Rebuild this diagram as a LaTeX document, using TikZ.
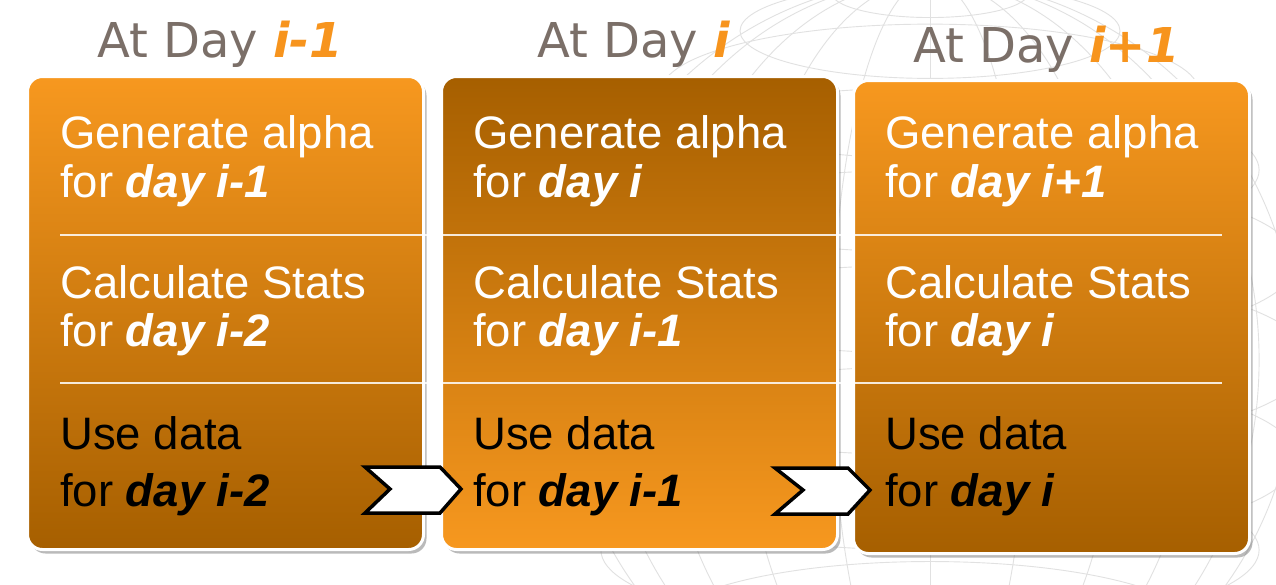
\documentclass[tikz,border=0pt]{standalone}
\usepackage{fontspec}
\setmainfont{Liberation Sans}
\newfontfamily\titlefont{DejaVu Sans}
\usetikzlibrary{shadows}
\definecolor{orangetop}{RGB}{247,152,31}
\definecolor{brownbot}{RGB}{166,95,0}
\definecolor{titlegray}{RGB}{123,111,104}
\definecolor{dayorange}{RGB}{247,148,29}
\definecolor{gridgray}{RGB}{225,225,225}
\begin{document}
\begin{tikzpicture}[x=1pt,y=-1pt,
  daybox/.style={draw=white, line width=3pt, rounded corners=15pt,
    minimum width=396pt, minimum height=473pt, anchor=north west, inner sep=0pt,
    drop shadow={shadow xshift=3pt, shadow yshift=-4pt, opacity=0.45, fill=black!60}},
  lightdown/.style={daybox, top color=orangetop, bottom color=brownbot},
  darkdown/.style={daybox, top color=brownbot, bottom color=orangetop},
  daytitle/.style={font=\titlefont\fontsize{48}{52}\selectfont, text=titlegray, anchor=base west, inner sep=0pt},
  wline/.style={font=\fontsize{45.5}{50}\selectfont, text=white, anchor=base west, inner sep=0pt},
  bline/.style={wline, text=black},
  divider/.style={white, line width=2pt, opacity=0.85},
  chevron/.style={draw=black, fill=white, line width=3.5pt, miter limit=10},
  gridline/.style={gridgray, line width=0.9pt}
]
\useasboundingbox (0,0) rectangle (1276,584);
\fill[white] (0,0) rectangle (1276,584);

% faint wireframe globe in the background
\begin{scope}
  \clip (0,0) rectangle (1276,584);
  \foreach \a in {15,30,...,75}
    \draw[gridline] (930,360) ellipse ({380*sin(\a)} and 380);
  \draw[gridline] (930,-20) -- (930,740);
  \foreach \l in {-75,-60,...,75}
    \draw[gridline] (930,{360-380*sin(\l)}) ellipse ({380*cos(\l)} and {95*cos(\l)});
\end{scope}

% the three day panels
\node[lightdown] (box1) at (26,75) {};
\node[darkdown]  (box2) at (440,75) {};
\node[lightdown] (box3) at (852,79) {};

% section dividers running across all panels
\draw[divider] (60,235) -- (1222,235);
\draw[divider] (60,383) -- (1222,383);

% column headings
\node[daytitle] (t1) at (97,57) {At Day \textcolor{dayorange}{\textbf{\textit{i-1}}}};
\node[daytitle] (t2) at (537,57) {At Day \textcolor{dayorange}{\textbf{\textit{i}}}};
\node[daytitle] (t3) at (913,62) {At Day \textcolor{dayorange}{\textbf{\textit{i+1}}}};

% panel 1
\node[wline] (p1a) at (60,148) {Generate alpha};
\node[wline] (p1b) at (60,197) {for \textbf{\textit{day i-1}}};
\node[wline] (p1c) at (60,298) {Calculate Stats};
\node[wline] (p1d) at (60,346) {for \textbf{\textit{day i-2}}};
\node[bline] (p1e) at (60,449) {Use data};
\node[bline] (p1f) at (60,506) {for \textbf{\textit{day i-2}}};

% panel 2
\node[wline] (p2a) at (473,148) {Generate alpha};
\node[wline] (p2b) at (473,197) {for \textbf{\textit{day i}}};
\node[wline] (p2c) at (473,298) {Calculate Stats};
\node[wline] (p2d) at (473,346) {for \textbf{\textit{day i-1}}};
\node[bline] (p2e) at (473,449) {Use data};
\node[bline] (p2f) at (473,506) {for \textbf{\textit{day i-1}}};

% panel 3
\node[wline] (p3a) at (885,148) {Generate alpha};
\node[wline] (p3b) at (885,197) {for \textbf{\textit{day i+1}}};
\node[wline] (p3c) at (885,298) {Calculate Stats};
\node[wline] (p3d) at (885,346) {for \textbf{\textit{day i}}};
\node[bline] (p3e) at (885,449) {Use data};
\node[bline] (p3f) at (885,506) {for \textbf{\textit{day i}}};

% hand-over chevrons between panels
\draw[chevron] (365,467) -- (440,467) -- (461,489) -- (440,513) -- (365,513) -- (390,489) -- cycle;
\draw[chevron] (775,468) -- (848,468) -- (870,490) -- (848,514) -- (775,514) -- (803,490) -- cycle;
\end{tikzpicture}
\end{document}
